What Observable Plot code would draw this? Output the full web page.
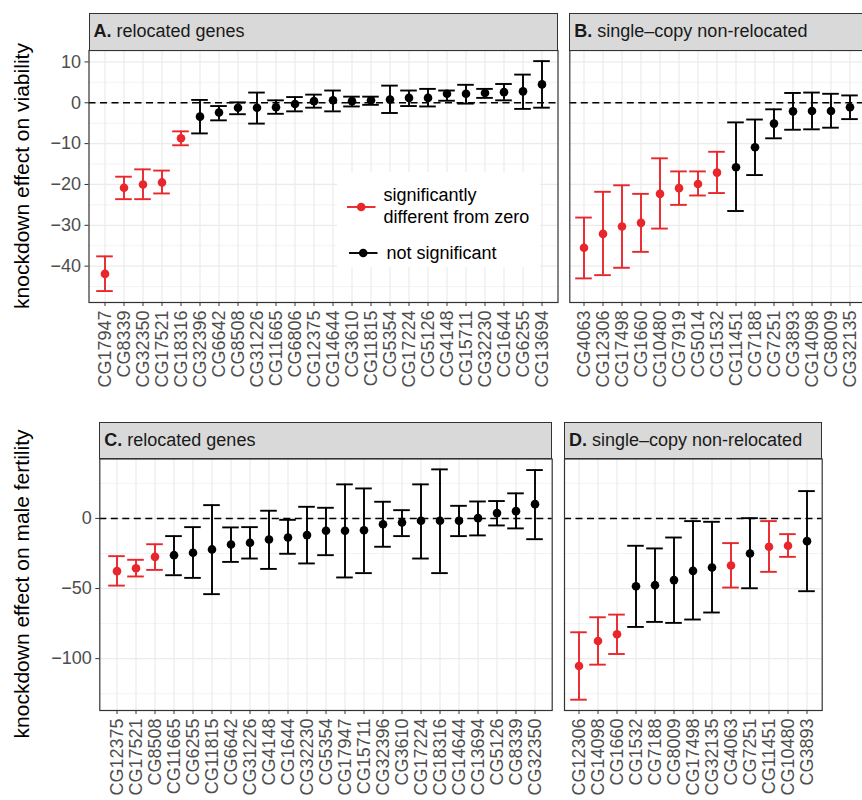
<!DOCTYPE html>
<html>
<head>
<meta charset="utf-8">
<script src="https://cdn.jsdelivr.net/npm/d3@7"></script>
<script src="https://cdn.jsdelivr.net/npm/@observablehq/plot@0.6"></script>
<style>
  html, body { margin: 0; padding: 0; background: #fff; overflow: hidden; }
  #root { position: relative; width: 862px; height: 800px; overflow: hidden;
          font-family: "Liberation Sans", Arial, Helvetica, sans-serif; background: #fff; }
  .panel { position: absolute; }
  .panel svg { max-width: none !important; display: block; }
  .strip { position: absolute; box-sizing: border-box; background: #d9d9d9;
           border: 1.1px solid #333; font-size: 18px; color: #1a1a1a;
           padding-left: 4px; display: flex; align-items: center; white-space: nowrap; }
  .ytitle { position: absolute; white-space: nowrap; font-size: 21px; color: #000;
            transform: translate(-50%, -50%) rotate(-90deg); }
  .legend { position: absolute; background: #fff; font-size: 18px; color: #000; }
  .legend .t { position: absolute; white-space: nowrap; line-height: 21.5px; }
  .legend svg { position: absolute; overflow: visible; }
</style>
</head>
<body>
<div id="root"></div>
<script>
// ---------------- data ----------------
// A. viability, relocated genes
const genesA = ["CG17947","CG8339","CG32350","CG17521","CG18316","CG32396","CG6642","CG8508","CG31226","CG11665","CG6806","CG12375","CG14644","CG3610","CG11815","CG5354","CG17224","CG5126","CG4148","CG15711","CG32230","CG1644","CG6255","CG13694"];
const estA  = [-41.9,-20.8,-20.0,-19.5,-8.7,-3.4,-2.4,-1.2,-1.2,-1.1,-0.3,0.4,0.6,0.4,0.6,0.8,1.2,1.2,2.2,2.2,2.4,2.6,2.8,4.5];
const lowA  = [-46.1,-23.6,-23.6,-22.2,-10.4,-7.5,-4.3,-2.8,-5.1,-2.7,-2.1,-1.2,-2.1,-0.9,-0.5,-2.5,-0.8,-0.9,0.5,-0.2,1.2,0.6,-1.5,-1.2];
const highA = [-37.6,-18.1,-16.3,-16.6,-7.0,0.7,-0.8,0.1,2.5,0.6,1.4,2.0,3.0,1.5,1.5,4.2,3.0,3.4,3.0,4.4,3.4,4.6,6.9,10.2];
const sigA  = [1,1,1,1,1,0,0,0,0,0,0,0,0,0,0,0,0,0,0,0,0,0,0,0];

// B. viability, single-copy non-relocated
const genesB = ["CG4063","CG12306","CG17498","CG1660","CG10480","CG7919","CG5014","CG1532","CG11451","CG7188","CG7251","CG3893","CG14098","CG8009","CG32135"];
const estB  = [-35.5,-32.1,-30.3,-29.4,-22.3,-20.9,-19.9,-17.1,-15.8,-10.9,-5.1,-2.1,-2.0,-2.0,-1.1];
const lowB  = [-43.0,-42.2,-40.4,-36.5,-30.8,-25.0,-22.7,-22.1,-26.5,-17.7,-8.7,-6.6,-6.5,-6.1,-4.0];
const highB = [-28.1,-21.8,-20.2,-22.3,-13.6,-16.8,-16.8,-12.0,-4.8,-4.1,-1.6,2.4,2.5,2.2,1.8];
const sigB  = [1,1,1,1,1,1,1,1,0,0,0,0,0,0,0];

// C. male fertility, relocated genes
const genesC = ["CG12375","CG17521","CG8508","CG11665","CG6255","CG11815","CG6642","CG31226","CG4148","CG1644","CG32230","CG5354","CG17947","CG15711","CG32396","CG3610","CG17224","CG18316","CG14644","CG13694","CG5126","CG8339","CG32350"];
const estC  = [-37.6,-35.5,-27.4,-26.2,-24.5,-22.1,-18.6,-17.4,-15.0,-13.6,-11.9,-8.8,-8.8,-8.4,-4.1,-2.9,-1.7,-1.7,-1.7,0.2,3.8,5.2,10.2];
const lowC  = [-47.9,-41.4,-36.7,-40.5,-42.4,-54.0,-31.0,-28.6,-36.0,-25.2,-32.1,-26.2,-42.1,-39.0,-20.2,-12.6,-28.6,-39.0,-12.6,-12.1,-5.0,-7.1,-14.8];
const highC = [-26.9,-29.5,-18.4,-12.6,-6.2,9.5,-6.4,-6.2,5.5,-1.0,8.3,7.6,24.3,21.4,11.9,5.9,24.3,35.0,9.0,12.1,12.4,17.9,34.5];
const sigC  = [1,1,1,0,0,0,0,0,0,0,0,0,0,0,0,0,0,0,0,0,0,0,0];

// D. male fertility, single-copy non-relocated
const genesD = ["CG12306","CG14098","CG1660","CG1532","CG7188","CG8009","CG17498","CG32135","CG4063","CG7251","CG11451","CG10480","CG3893"];
const estD  = [-105.3,-87.4,-82.6,-48.4,-47.6,-44.0,-37.4,-35.0,-33.6,-25.0,-20.2,-19.5,-16.2];
const lowD  = [-129.3,-104.3,-96.7,-77.4,-73.8,-74.5,-72.1,-67.1,-49.3,-49.8,-38.1,-27.4,-51.9];
const highD = [-81.2,-70.5,-68.6,-19.5,-21.4,-13.6,-1.9,-2.4,-17.6,0.2,-1.9,-11.2,19.5];
const sigD  = [1,1,1,0,0,0,0,0,1,0,1,1,0];

// axis ticks
const viabMajor = [10,0,-10,-20,-30,-40];
const viabMinor = [5,-5,-15,-25,-35,-45];
const fertMajor = [0,-50,-100];
const fertMinor = [25,-25,-75,-125];

const stripLabels = [
  ["A.", "relocated genes"],
  ["B.", "single\u2013copy non-relocated"],
  ["C.", "relocated genes"],
  ["D.", "single\u2013copy non-relocated"]
];
const yTitles = ["knockdown effect on viability", "knockdown effect on male fertility"];
const legendLabels = ["significantly\ndifferent from zero", "not significant"];

const RED = "#e8262b", BLACK = "#000000";
const FONT = '"Liberation Sans", Arial, Helvetica, sans-serif';

// ---------------- drawing ----------------
const root = document.getElementById("root");

function panel(cfg) {
  const {genes, est, low, high, sig, yDomain, majors, minors, left, top, width, height, margin, showY} = cfg;
  const data = genes.map((g, i) => ({gene: g, est: est[i], low: low[i], high: high[i], col: sig[i] ? RED : BLACK}));
  const marks = [
    Plot.gridY(minors, {stroke: "#ebebeb", strokeOpacity: 1, strokeWidth: 0.6}),
    Plot.gridY(majors, {stroke: "#ebebeb", strokeOpacity: 1, strokeWidth: 1.2}),
    Plot.gridX(genes, {stroke: "#ebebeb", strokeOpacity: 1, strokeWidth: 1.2}),
    Plot.ruleY([0], {stroke: "#000", strokeWidth: 1.6, strokeDasharray: "7,4.5"}),
    Plot.ruleX(data, {x: "gene", y1: "low", y2: "high", stroke: "col", strokeWidth: 1.9}),
    Plot.tickY(data, {x: "gene", y: "low", stroke: "col", strokeWidth: 1.9, insetLeft: 1.2, insetRight: 1.2}),
    Plot.tickY(data, {x: "gene", y: "high", stroke: "col", strokeWidth: 1.9, insetLeft: 1.2, insetRight: 1.2}),
    Plot.dot(data, {x: "gene", y: "est", fill: "col", r: 4.3}),
    Plot.axisX({tickRotate: -90, tickSize: 4, tickPadding: 4, fontSize: 18, fill: "#4d4d4d", stroke: "#333", label: null}),
  ];
  if (showY) marks.push(Plot.axisY(majors, {tickSize: 4, tickPadding: 4, fontSize: 18, fill: "#4d4d4d", stroke: "#333", label: null}));
  marks.push(Plot.frame({stroke: "#333", strokeWidth: 1.2}));
  const svg = Plot.plot({
    width, height,
    marginLeft: margin[3], marginRight: margin[1], marginTop: margin[0], marginBottom: margin[2],
    style: {fontFamily: FONT, background: "transparent", overflow: "visible", maxWidth: "none"},
    x: {type: "band", domain: genes, paddingInner: 0, paddingOuter: 0.1, label: null},
    y: {domain: yDomain, label: null, axis: showY ? undefined : null},
    color: {type: "identity"},
    marks
  });
  const wrap = document.createElement("div");
  wrap.className = "panel";
  wrap.style.left = left + "px";
  wrap.style.top = top + "px";
  wrap.style.width = width + "px";
  wrap.style.height = height + "px";
  wrap.appendChild(svg);
  root.appendChild(wrap);
}

const viabDomain = [-48.9, 12.8];
const fertDomain = [-137, 42.4];

// A
panel({genes: genesA, est: estA, low: lowA, high: highA, sig: sigA, yDomain: viabDomain,
  majors: viabMajor, minors: viabMinor, showY: true,
  left: 0, top: 0, width: 562, height: 400, margin: [50, 4.5, 98, 88.5]});
// B
panel({genes: genesB, est: estB, low: lowB, high: highB, sig: sigB, yDomain: viabDomain,
  majors: viabMajor, minors: viabMinor, showY: false,
  left: 560, top: 0, width: 310, height: 400, margin: [50, 5.8, 98, 9.3]});
// C
panel({genes: genesC, est: estC, low: lowC, high: highC, sig: sigC, yDomain: fertDomain,
  majors: fertMajor, minors: fertMinor, showY: true,
  left: 0, top: 400, width: 560, height: 400, margin: [58.5, 8.3, 90, 99.3]});
// D
panel({genes: genesD, est: estD, low: lowD, high: highD, sig: sigD, yDomain: fertDomain,
  majors: fertMajor, minors: fertMinor, showY: false,
  left: 560, top: 400, width: 302, height: 400, margin: [58.5, 40.3, 90, 4]});

// strips
const strips = [
  {x0: 88.5, x1: 557.5, y0: 12.7, y1: 50},
  {x0: 569.3, x1: 866, y0: 12.7, y1: 50},
  {x0: 99.3, x1: 551.7, y0: 421.7, y1: 458.5},
  {x0: 564, x1: 821.7, y0: 421.7, y1: 458.5}
];
strips.forEach((s, i) => {
  const d = document.createElement("div");
  d.className = "strip";
  d.style.left = s.x0 + "px"; d.style.top = s.y0 + "px";
  d.style.width = (s.x1 - s.x0) + "px"; d.style.height = (s.y1 - s.y0 + 0.6) + "px";
  d.innerHTML = "<b>" + stripLabels[i][0] + "</b>&nbsp;" + stripLabels[i][1];
  root.appendChild(d);
});

// y titles
[[22, 176], [22, 584]].forEach(([cx, cy], i) => {
  const d = document.createElement("div");
  d.className = "ytitle";
  d.style.left = cx + "px"; d.style.top = cy + "px";
  d.textContent = yTitles[i];
  root.appendChild(d);
});

// legend
const lg = document.createElement("div");
lg.className = "legend";
lg.style.left = "337px"; lg.style.top = "172px"; lg.style.width = "203px"; lg.style.height = "95px";
function key(y, color, x0) {
  const ns = "http://www.w3.org/2000/svg";
  const s = document.createElementNS(ns, "svg");
  s.setAttribute("width", "30"); s.setAttribute("height", "12");
  s.style.left = x0 + "px"; s.style.top = (y - 6) + "px";
  const l = document.createElementNS(ns, "line");
  l.setAttribute("x1", 0); l.setAttribute("x2", 28.5); l.setAttribute("y1", 6); l.setAttribute("y2", 6);
  l.setAttribute("stroke", color); l.setAttribute("stroke-width", 1.9);
  const c = document.createElementNS(ns, "circle");
  c.setAttribute("cx", 14.2); c.setAttribute("cy", 6); c.setAttribute("r", 4.3); c.setAttribute("fill", color);
  s.appendChild(l); s.appendChild(c);
  lg.appendChild(s);
}
key(34.7, RED, 9.7);
key(81.3, BLACK, 12.3);
const t1 = document.createElement("div");
t1.className = "t"; t1.style.left = "46.5px"; t1.style.top = "13px";
t1.innerHTML = legendLabels[0].replace("\n", "<br>");
const t2 = document.createElement("div");
t2.className = "t"; t2.style.left = "49.5px"; t2.style.top = "71px";
t2.textContent = legendLabels[1];
lg.appendChild(t1); lg.appendChild(t2);
root.appendChild(lg);
</script>
</body>
</html>
